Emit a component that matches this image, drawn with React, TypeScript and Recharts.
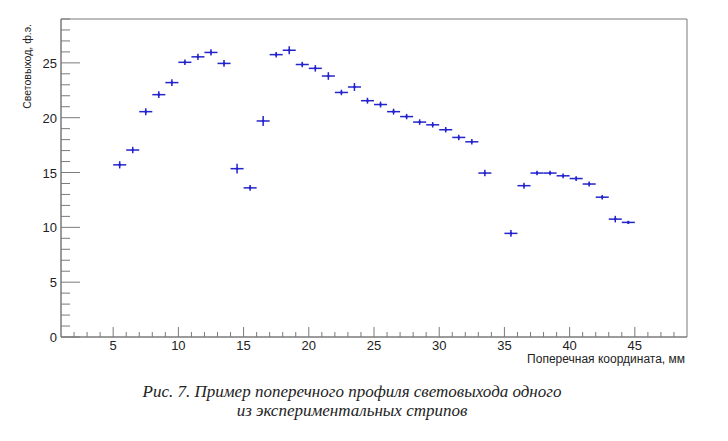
import { ScatterChart, Scatter, XAxis, YAxis, ErrorBar, ReferenceArea } from "recharts";

// bin centres, mm (bin width 1 mm)
const X_CENTERS = [
  5.5, 6.5, 7.5, 8.5, 9.5, 10.5, 11.5, 12.5, 13.5, 14.5,
  15.5, 16.5, 17.5, 18.5, 19.5, 20.5, 21.5, 22.5, 23.5, 24.5,
  25.5, 26.5, 27.5, 28.5, 29.5, 30.5, 31.5, 32.5, 33.5,
  35.5, 36.5, 37.5, 38.5, 39.5, 40.5, 41.5, 42.5, 43.5, 44.5,
];

// light yield, p.e.
const LIGHT_YIELD = [
  15.7, 17.05, 20.55, 22.1, 23.2, 25.05, 25.55, 25.95, 24.95, 15.35,
  13.6, 19.7, 25.75, 26.15, 24.85, 24.5, 23.8, 22.3, 22.8, 21.55,
  21.2, 20.55, 20.1, 19.6, 19.35, 18.9, 18.2, 17.8, 14.95,
  9.45, 13.8, 14.95, 14.95, 14.7, 14.45, 13.95, 12.75, 10.75, 10.45,
];

const YIELD_ERR = [
  0.33, 0.29, 0.32, 0.3, 0.3, 0.25, 0.28, 0.28, 0.3, 0.45,
  0.26, 0.45, 0.25, 0.36, 0.25, 0.3, 0.35, 0.25, 0.36, 0.27,
  0.27, 0.27, 0.25, 0.25, 0.25, 0.25, 0.25, 0.25, 0.3,
  0.3, 0.27, 0.2, 0.2, 0.22, 0.22, 0.22, 0.2, 0.3, 0.15,
];

const BIN_HALF_WIDTH = 0.5;

const X_TICKS = [
  2, 3, 4, 5, 6, 7, 8, 9, 10, 11, 12, 13, 14, 15, 16, 17, 18, 19, 20, 21, 22, 23, 24, 25,
  26, 27, 28, 29, 30, 31, 32, 33, 34, 35, 36, 37, 38, 39, 40, 41, 42, 43, 44, 45, 46, 47, 48,
];
const X_LABELS = [5, 10, 15, 20, 25, 30, 35, 40, 45];

const Y_TICKS = [
  0, 1, 2, 3, 4, 5, 6, 7, 8, 9, 10, 11, 12, 13, 14, 15, 16, 17, 18, 19, 20, 21, 22, 23,
  24, 25, 26, 27, 28, 29,
];
const Y_LABELS = [0, 5, 10, 15, 20, 25];

const BLUE = "#2424cc";
const AXIS = "#7a7a7a";
const SANS = "'Liberation Sans', Arial, sans-serif";

const data = X_CENTERS.map((x, i) => ({
  x,
  y: LIGHT_YIELD[i],
  ex: BIN_HALF_WIDTH,
  ey: YIELD_ERR[i],
}));

const XTick = (props: any) => {
  const { x, y, payload } = props;
  const major = X_LABELS.includes(payload.value);
  return (
    <g>
      <line x1={x} x2={x} y1={y} y2={y - (major ? 10 : 5)} stroke={AXIS} />
      {major && (
        <text x={x} y={y + 13} textAnchor="middle" fontSize={13} fontFamily={SANS} fill="#222">
          {payload.value}
        </text>
      )}
    </g>
  );
};

const YTick = (props: any) => {
  const { x, y, payload } = props;
  const major = Y_LABELS.includes(payload.value);
  return (
    <g>
      <line x1={x} x2={x + (major ? 19 : 9)} y1={y} y2={y} stroke={AXIS} />
      {major && (
        <text x={x - 4} y={y + 5} textAnchor="end" fontSize={13} fontFamily={SANS} fill="#222">
          {payload.value}
        </text>
      )}
    </g>
  );
};

const Dot = (props: any) => <circle cx={props.cx} cy={props.cy} r={1.3} fill={BLUE} />;

export default function App() {
  return (
    <div style={{ position: "absolute", left: 0, top: 0, width: 728, height: 441, background: "#fff" }}>
      <ScatterChart width={728} height={380} margin={{ top: 19, right: 41, left: 0, bottom: 0 }}>
        <XAxis
          type="number"
          dataKey="x"
          domain={[1, 49]}
          ticks={X_TICKS}
          interval={0}
          height={43}
          tickSize={0}
          tickMargin={0}
          tick={<XTick />}
          axisLine={{ stroke: AXIS }}
        />
        <YAxis
          type="number"
          dataKey="y"
          domain={[0, 29]}
          ticks={Y_TICKS}
          interval={0}
          width={61}
          tickSize={0}
          tickMargin={0}
          tick={<YTick />}
          axisLine={{ stroke: AXIS }}
        />
        <ReferenceArea x1={1} x2={49} y1={0} y2={29} fill="none" stroke={AXIS} strokeWidth={1} />
        <Scatter data={data} shape={<Dot />} isAnimationActive={false}>
          <ErrorBar dataKey="ex" direction="x" width={0} stroke={BLUE} strokeWidth={1.5} />
          <ErrorBar dataKey="ey" direction="y" width={0} stroke={BLUE} strokeWidth={1.5} />
        </Scatter>
      </ScatterChart>
      <svg width={728} height={441} style={{ position: "absolute", left: 0, top: 0, pointerEvents: "none" }}>
        <text
          x={31}
          y={24}
          transform="rotate(-90 31 24)"
          textAnchor="end"
          fontSize={10.5}
          fontFamily={SANS}
          fill="#222"
        >
          Световыход, ф.э.
        </text>
        <text x={685} y={363} textAnchor="end" fontSize={12} fontFamily={SANS} fill="#222">
          Поперечная координата, мм
        </text>
      </svg>
      <div
        style={{
          position: "absolute",
          left: 0,
          top: 382,
          width: 704,
          textAlign: "center",
          fontFamily: "'Liberation Serif', 'Times New Roman', serif",
          fontStyle: "italic",
          fontSize: 17,
          lineHeight: "19px",
          color: "#222",
        }}
      >
        Рис. 7. Пример поперечного профиля световыхода одного
        <br />
        из экспериментальных стрипов
      </div>
    </div>
  );
}
